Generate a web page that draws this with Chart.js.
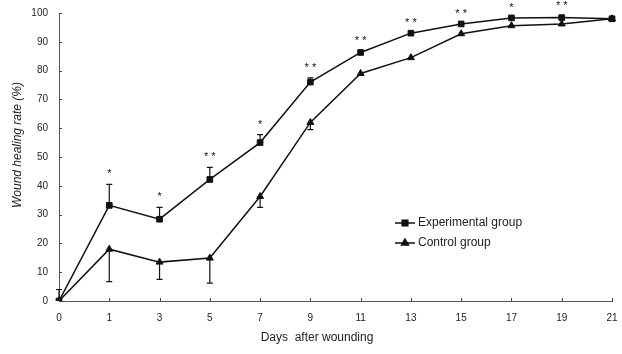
<!DOCTYPE html>
<html><head><meta charset="utf-8">
<script src="https://cdn.jsdelivr.net/npm/chart.js@4"></script>
<style>html,body{margin:0;padding:0;background:#fff}#wrap{width:622px;height:354px;position:relative}</style>
</head><body><div id="wrap"><canvas id="c" width="622" height="354"></canvas></div>
<script>
const days = ['0','1','3','5','7','9','11','13','15','17','19','21'];
const experimental = [0, 33.2, 28.4, 42.2, 55, 76, 86.3, 93, 96.2, 98.3, 98.4, 98];
const control = [0, 18, 13.5, 14.9, 36.3, 62, 79, 84.5, 92.8, 95.6, 96.2, 98];
const experimentalErr = [4, 7.3, 4.1, 4.2, 2.8, 1.5, 0.5, 0, 0, 0, 0.5, 0];
const controlErr = [0, 11.3, 6, 8.7, 3.8, 2.5, 0, 0, 0, 0, 0, 0];
const significance = ['', '*', '*', '**', '*', '**', '**', '**', '**', '*', '**', ''];
const seriesNames = ['Experimental group', 'Control group'];
const xTitle = 'Days  after wounding';
const yTitle = 'Wound healing rate (%)';

const INK = '#111';
const FONT = '"Liberation Sans", Arial, sans-serif';

const extras = {
  id: 'extras',
  afterDatasetsDraw(chart) {
    const ctx = chart.ctx;
    const xs = chart.scales.x, ys = chart.scales.y;
    const area = chart.chartArea;
    ctx.save();
    // inward tick marks
    ctx.strokeStyle = '#444';
    ctx.lineWidth = 1;
    ys.ticks.forEach(t => {
      const y = Math.round(ys.getPixelForValue(t.value)) + 0.5;
      ctx.beginPath(); ctx.moveTo(area.left, y); ctx.lineTo(area.left + 3, y); ctx.stroke();
    });
    days.forEach((d, i) => {
      const x = Math.round(xs.getPixelForValue(i)) + 0.5;
      ctx.beginPath(); ctx.moveTo(x, area.bottom); ctx.lineTo(x, area.bottom - 3); ctx.stroke();
    });
    // error bars
    ctx.strokeStyle = INK;
    ctx.lineWidth = 1.2;
    const bar = (x, y0, y1) => {
      ctx.beginPath(); ctx.moveTo(x, y0); ctx.lineTo(x, y1);
      ctx.moveTo(x - 3, y1); ctx.lineTo(x + 3, y1); ctx.stroke();
    };
    days.forEach((d, i) => {
      const x = xs.getPixelForValue(i);
      if (experimentalErr[i] > 0) bar(x, ys.getPixelForValue(experimental[i]), ys.getPixelForValue(experimental[i] + experimentalErr[i]));
      if (controlErr[i] > 0) bar(x, ys.getPixelForValue(control[i]), ys.getPixelForValue(control[i] - controlErr[i]));
    });
    // significance marks
    ctx.fillStyle = INK;
    ctx.font = '11px ' + FONT;
    ctx.textAlign = 'center';
    ctx.textBaseline = 'alphabetic';
    days.forEach((d, i) => {
      if (!significance[i]) return;
      const x = xs.getPixelForValue(i);
      const top = ys.getPixelForValue(experimental[i] + experimentalErr[i]);
      const txt = significance[i].split('').join(' ');
      ctx.fillText(txt, x, top - 13 + 6);
    });
    // legend
    const legend = [
      {name: seriesNames[0], style: 'rect', r: 4, y: 223},
      {name: seriesNames[1], style: 'triangle', r: 4, y: 243}
    ];
    ctx.font = '12px ' + FONT;
    ctx.textAlign = 'left';
    ctx.textBaseline = 'middle';
    legend.forEach(l => {
      ctx.strokeStyle = INK; ctx.lineWidth = 1.5;
      ctx.beginPath(); ctx.moveTo(395, l.y); ctx.lineTo(415, l.y); ctx.stroke();
      ctx.fillStyle = INK;
      Chart.helpers.drawPoint(ctx, {pointStyle: l.style, radius: l.r, borderWidth: 1}, 405, l.y);
      ctx.fillStyle = '#222';
      ctx.fillText(l.name, 418, l.y);
    });
    // axis titles
    ctx.fillStyle = '#222';
    ctx.font = '12px ' + FONT;
    ctx.textAlign = 'center';
    ctx.textBaseline = 'middle';
    ctx.fillText(xTitle, 317, 338);
    ctx.save();
    ctx.translate(18, 145);
    ctx.rotate(-Math.PI / 2);
    ctx.font = 'italic 12px ' + FONT;
    ctx.fillText(yTitle, 0, 0);
    ctx.restore();
    ctx.restore();
  }
};

new Chart(document.getElementById('c'), {
  type: 'line',
  data: {
    labels: days,
    datasets: [
      {label: seriesNames[0], data: experimental, borderColor: INK, backgroundColor: INK, borderWidth: 1.5,
       pointStyle: 'rect', pointRadius: 4, pointBorderWidth: 1, tension: 0},
      {label: seriesNames[1], data: control, borderColor: INK, backgroundColor: INK, borderWidth: 1.5,
       pointStyle: 'triangle', pointRadius: 4, pointBorderWidth: 1, tension: 0}
    ]
  },
  options: {
    responsive: false,
    animation: false,
    layout: {padding: {top: 13, right: 10, left: 0, bottom: 0}},
    plugins: {legend: {display: false}, tooltip: {enabled: false}},
    scales: {
      x: {
        type: 'category',
        offset: false,
        grid: {display: false, drawTicks: false},
        border: {display: true, color: '#555', width: 1},
        ticks: {color: '#222', font: {size: 10, family: FONT}, padding: 11, autoSkip: false, maxRotation: 0},
        afterFit(s) { s.height = 53; s.paddingLeft = 0; s.paddingRight = 0; }
      },
      y: {
        min: 0, max: 100,
        grid: {display: false, drawTicks: false},
        border: {display: true, color: '#555', width: 1},
        ticks: {stepSize: 10, color: '#222', font: {size: 10, family: FONT}, padding: 11},
        afterFit(s) { s.width = 59; s.paddingTop = 0; s.paddingBottom = 0; }
      }
    }
  },
  plugins: [extras]
});
</script>
</body></html>
